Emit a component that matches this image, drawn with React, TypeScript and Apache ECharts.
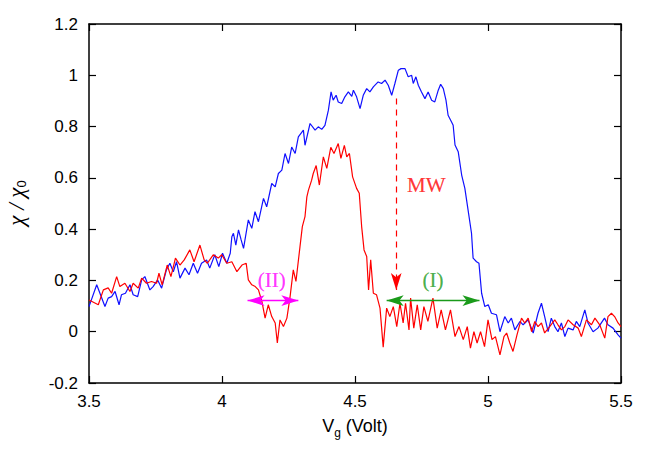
import React, { useEffect, useRef } from "react";
import * as echarts from "echarts";

// ---- data ----
const blueVg = [
  3.5, 3.529, 3.56, 3.572, 3.585, 3.598, 3.613, 3.622, 3.637, 3.654, 3.666, 3.683, 3.698, 3.71, 3.729, 3.741,
  3.758, 3.773, 3.791, 3.804, 3.817, 3.829, 3.842, 3.861, 3.876, 3.892, 3.908, 3.923, 3.942, 3.954, 3.973, 3.988,
  4.002, 4.018, 4.031, 4.037, 4.043, 4.052, 4.062, 4.072, 4.081, 4.099, 4.112, 4.124, 4.137, 4.156, 4.168, 4.187,
  4.2, 4.212, 4.225, 4.237, 4.25, 4.262, 4.275, 4.287, 4.306, 4.312, 4.331, 4.35, 4.362, 4.375, 4.387, 4.4,
  4.41, 4.418, 4.429, 4.437, 4.45, 4.462, 4.475, 4.488, 4.494, 4.506, 4.519, 4.531, 4.544, 4.556, 4.569, 4.587,
  4.6, 4.613, 4.625, 4.638, 4.65, 4.663, 4.673, 4.688, 4.7, 4.713, 4.719, 4.729, 4.738, 4.75, 4.763, 4.775,
  4.788, 4.8, 4.813, 4.822, 4.832, 4.842, 4.85, 4.863, 4.869, 4.876, 4.888, 4.901, 4.913, 4.925, 4.938, 4.944,
  4.957, 4.966, 4.976, 4.988, 5.001, 5.013, 5.032, 5.045, 5.063, 5.076, 5.088, 5.101, 5.12, 5.132, 5.151, 5.17,
  5.188, 5.201, 5.213, 5.226, 5.238, 5.251, 5.263, 5.276, 5.289, 5.301, 5.32, 5.332, 5.345, 5.364, 5.376, 5.395,
  5.413, 5.438, 5.451, 5.47, 5.489, 5.5,
];
const blueChi = [
  0.098, 0.183, 0.098, 0.131, 0.137, 0.157, 0.105, 0.144, 0.15, 0.183, 0.144, 0.137, 0.202, 0.215, 0.163, 0.176,
  0.202, 0.17, 0.241, 0.267, 0.234, 0.273, 0.209, 0.248, 0.222, 0.267, 0.228, 0.267, 0.28, 0.248, 0.3, 0.254,
  0.306, 0.267, 0.306, 0.37, 0.384, 0.338, 0.397, 0.358, 0.325, 0.436, 0.403, 0.468, 0.429, 0.52, 0.487, 0.578,
  0.565, 0.617, 0.63, 0.695, 0.656, 0.72, 0.695, 0.76, 0.786, 0.727, 0.812, 0.786, 0.799, 0.789, 0.805, 0.864,
  0.935, 0.903, 0.922, 0.896, 0.89, 0.916, 0.935, 0.918, 0.942, 0.916, 0.87, 0.922, 0.948, 0.935, 0.955, 0.974,
  0.968, 0.981, 0.961, 0.922, 0.968, 1.02, 1.026, 1.026, 0.994, 1.0, 0.968, 0.994, 0.961, 0.935, 0.909, 0.935,
  0.903, 0.896, 0.942, 0.965, 0.948, 0.903, 0.844, 0.818, 0.805, 0.728, 0.702, 0.611, 0.559, 0.475, 0.384, 0.287,
  0.273, 0.267, 0.15, 0.098, 0.105, 0.072, 0.066, 0.0, 0.059, 0.034, 0.053, 0.007, 0.04, 0.027, 0.046, -0.005,
  0.072, 0.111, 0.059, 0.0, 0.053, 0.02, 0.0, 0.034, -0.019, 0.014, 0.007, 0.04, 0.02, 0.085, 0.034, 0.0,
  0.014, 0.053, 0.027, 0.014, -0.012, -0.025,
];
const redVg = [
  3.5, 3.535, 3.554, 3.572, 3.585, 3.604, 3.616, 3.635, 3.654, 3.666, 3.685, 3.698, 3.716, 3.735, 3.754, 3.763,
  3.775, 3.794, 3.808, 3.825, 3.842, 3.858, 3.879, 3.895, 3.917, 3.933, 3.945, 3.967, 3.986, 3.999, 4.018, 4.037,
  4.056, 4.075, 4.091, 4.099, 4.112, 4.125, 4.137, 4.15, 4.162, 4.174, 4.187, 4.2, 4.208, 4.218, 4.231, 4.244,
  4.256, 4.268, 4.278, 4.293, 4.302, 4.312, 4.319, 4.325, 4.337, 4.343, 4.354, 4.366, 4.381, 4.394, 4.409, 4.421,
  4.437, 4.447, 4.46, 4.469, 4.479, 4.491, 4.506, 4.516, 4.525, 4.534, 4.544, 4.551, 4.559, 4.569, 4.581, 4.594,
  4.606, 4.619, 4.631, 4.644, 4.657, 4.669, 4.681, 4.69, 4.703, 4.709, 4.721, 4.734, 4.747, 4.759, 4.774, 4.793,
  4.809, 4.824, 4.84, 4.859, 4.876, 4.891, 4.907, 4.922, 4.934, 4.947, 4.959, 4.972, 4.987, 5.0, 5.015, 5.028,
  5.045, 5.06, 5.07, 5.082, 5.094, 5.109, 5.126, 5.138, 5.151, 5.164, 5.176, 5.188, 5.201, 5.213, 5.232, 5.251,
  5.263, 5.276, 5.289, 5.301, 5.32, 5.339, 5.351, 5.37, 5.389, 5.402, 5.42, 5.439, 5.451, 5.464, 5.476, 5.489,
  5.5,
];
const redChi = [
  0.124, 0.105, 0.163, 0.171, 0.15, 0.215, 0.176, 0.189, 0.157, 0.189, 0.17, 0.209, 0.189, 0.196, 0.189, 0.228,
  0.183, 0.26, 0.215, 0.287, 0.26, 0.28, 0.319, 0.273, 0.338, 0.28, 0.267, 0.3, 0.287, 0.3, 0.267, 0.273,
  0.234, 0.26, 0.267, 0.202, 0.183, 0.176, 0.163, 0.118, 0.053, 0.105, 0.059, 0.034, -0.044, 0.046, 0.02, 0.053,
  0.137, 0.241, 0.196, 0.33, 0.41, 0.449, 0.526, 0.552, 0.591, 0.617, 0.648, 0.572, 0.682, 0.637, 0.719, 0.695,
  0.734, 0.676, 0.727, 0.682, 0.695, 0.604, 0.559, 0.54, 0.41, 0.319, 0.293, 0.163, 0.28, 0.15, 0.144, 0.092,
  -0.06, 0.092, 0.059, 0.098, 0.02, 0.111, 0.034, 0.111, 0.007, 0.131, 0.014, 0.105, 0.007, 0.098, 0.04, 0.131,
  0.014, 0.085, 0.007, 0.085, -0.019, 0.02, -0.031, 0.02, -0.064, 0.0, -0.044, 0.0, -0.058, 0.046, -0.031, -0.019,
  -0.09, -0.019, -0.005, -0.044, -0.077, -0.012, 0.053, 0.034, 0.053, 0.0, 0.04, 0.02, 0.034, -0.005, 0.02, 0.046,
  0.027, 0.007, 0.02, 0.046, 0.027, 0.014, -0.019, 0.046, 0.027, 0.053, 0.027, -0.025, 0.059, 0.072, 0.059, 0.034,
  0.02,
];

const xMin = 3.5;
const xMax = 5.5;
const xStep = 0.5;
const yMin = -0.2;
const yMax = 1.2;
const yStep = 0.2;

// annotation anchors (data coordinates)
const mwArrow = { x: 4.655, yTop: 0.909, yTip: 0.163 };
const arrowI = { x1: 4.619, x2: 4.968, y: 0.1215 };
const arrowII = { x1: 4.096, x2: 4.287, y: 0.1215 };
const labels = [
  { text: "MW", x: 4.768, y: 0.572, color: "#ff0000" },
  { text: "(I)", x: 4.793, y: 0.202, color: "#1a9a1a" },
  { text: "(II)", x: 4.187, y: 0.202, color: "#ff00ff" },
];

const SANS = "Liberation Sans, Arial, Helvetica, sans-serif";
const SERIF = "Liberation Serif, Times New Roman, serif";

export default function App() {
  const ref = useRef<HTMLDivElement>(null);

  useEffect(() => {
    document.body.style.margin = "0";
    if (!ref.current) return;
    const chart = echarts.init(ref.current, undefined, { renderer: "svg" });

    const axisLine = { show: true, onZero: false, lineStyle: { color: "#000", width: 1.5 } };
    const axisTick = { show: true, inside: true, length: 7, lineStyle: { color: "#000", width: 1.2 } };
    const head: [number, number] = [8, 17];

    chart.setOption({
      animation: false,
      backgroundColor: "#fff",
      grid: { left: 89, right: 33, top: 24, bottom: 77 },
      xAxis: [
        {
          type: "value", min: xMin, max: xMax, interval: xStep, position: "bottom",
          axisLine, axisTick, splitLine: { show: false },
          axisLabel: { color: "#000", fontSize: 17, fontFamily: SANS, margin: 10 },
        },
        {
          type: "value", min: xMin, max: xMax, interval: xStep, position: "top",
          axisLine, axisTick, splitLine: { show: false }, axisLabel: { show: false },
        },
      ],
      yAxis: [
        {
          type: "value", min: yMin, max: yMax, interval: yStep, position: "left",
          axisLine, axisTick, splitLine: { show: false },
          axisLabel: { color: "#000", fontSize: 17, fontFamily: SANS, margin: 11 },
        },
        {
          type: "value", min: yMin, max: yMax, interval: yStep, position: "right",
          axisLine, axisTick, splitLine: { show: false }, axisLabel: { show: false },
        },
      ],
      series: [
        {
          type: "line", name: "blue", showSymbol: false, silent: true,
          data: blueVg.map((x, i) => [x, blueChi[i]]),
          lineStyle: { color: "#1010ff", width: 1.2 },
          itemStyle: { color: "#1010ff" },
        },
        {
          type: "line", name: "red", showSymbol: false, silent: true,
          data: redVg.map((x, i) => [x, redChi[i]]),
          lineStyle: { color: "#ff0000", width: 1.2 },
          itemStyle: { color: "#ff0000" },
        },
        {
          type: "line", name: "annot", data: [], silent: true,
          markLine: {
            silent: true, animation: false,
            label: { show: false },
            data: [
              [
                { coord: [mwArrow.x, mwArrow.yTop], symbol: "none", lineStyle: { color: "#ff0000", width: 1.2, type: [6, 5] } },
                { coord: [mwArrow.x, mwArrow.yTip], symbol: "arrow", symbolSize: head },
              ],
              [
                { coord: [arrowI.x1, arrowI.y], symbol: "arrow", symbolSize: head, lineStyle: { color: "#1a9a1a", width: 1.3, type: "solid" } },
                { coord: [arrowI.x2, arrowI.y], symbol: "arrow", symbolSize: head },
              ],
              [
                { coord: [arrowII.x1, arrowII.y], symbol: "arrow", symbolSize: head, lineStyle: { color: "#ff00ff", width: 1.3, type: "solid" } },
                { coord: [arrowII.x2, arrowII.y], symbol: "arrow", symbolSize: head },
              ],
            ],
          },
        },
        {
          type: "scatter", name: "labels", silent: true, symbolSize: 1,
          itemStyle: { color: "rgba(0,0,0,0)" },
          data: labels.map((l) => ({
            value: [l.x, l.y],
            label: {
              show: true, position: "inside", formatter: l.text, color: l.color,
              fontSize: 21, fontFamily: SERIF, textBorderColor: l.color, textBorderWidth: 0.2, textShadowBlur: 0,
            },
          })),
        },
      ],
      graphic: [
        {
          type: "text", x: 355, y: 427, silent: true,
          style: {
            text: "{a|V}{b|g}{a| (Volt)}",
            align: "center", verticalAlign: "middle",
            rich: {
              a: { fontSize: 18, fontFamily: SANS, fill: "#000", verticalAlign: "top", lineHeight: 20 },
              b: { fontSize: 12, fontFamily: SANS, fill: "#000", verticalAlign: "top", lineHeight: 14, padding: [10, 0, 0, 0] },
            },
          },
        },
        {
          type: "text", x: 16, y: 203, rotation: Math.PI / 2, silent: true,
          style: {
            text: "{a|χ / χ}{b|0}",
            align: "center", verticalAlign: "middle",
            rich: {
              a: { fontSize: 23, fontFamily: SERIF, fontStyle: "italic", fill: "#000", verticalAlign: "top", lineHeight: 22 },
              b: { fontSize: 13, fontFamily: SANS, fill: "#000", verticalAlign: "top", lineHeight: 14, padding: [10, 0, 0, 0] },
            },
          },
        },
      ],
    });

    return () => chart.dispose();
  }, []);

  return <div ref={ref} style={{ position: "absolute", left: 0, top: 0, width: 654, height: 460 }} />;
}
